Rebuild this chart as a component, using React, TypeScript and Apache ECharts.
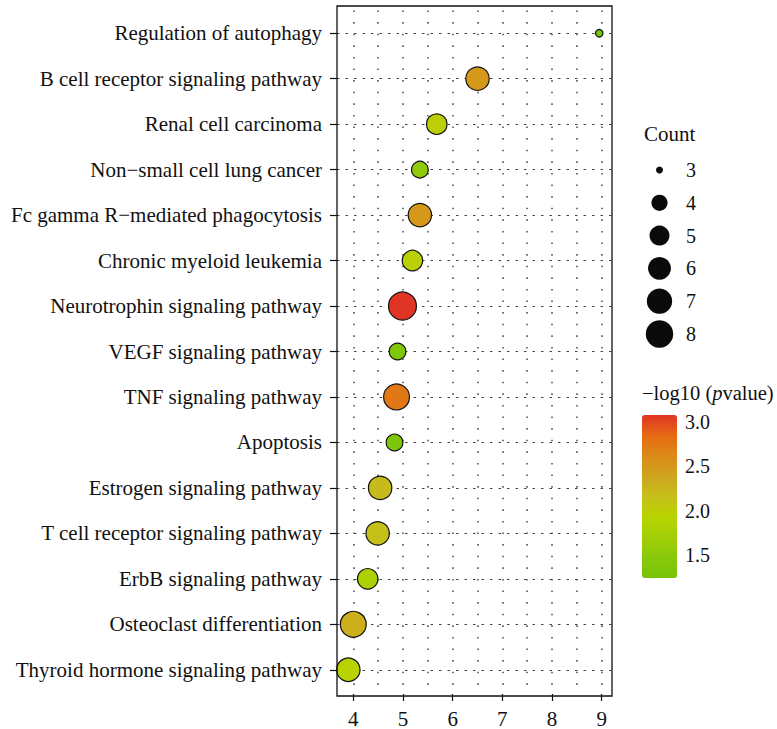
import React, { useEffect, useRef } from "react";
import * as echarts from "echarts";

// Pathways, top to bottom
const categories: string[] = [
  "Regulation of autophagy",
  "B cell receptor signaling pathway",
  "Renal cell carcinoma",
  "Non\u2212small cell lung cancer",
  "Fc gamma R\u2212mediated phagocytosis",
  "Chronic myeloid leukemia",
  "Neurotrophin signaling pathway",
  "VEGF signaling pathway",
  "TNF signaling pathway",
  "Apoptosis",
  "Estrogen signaling pathway",
  "T cell receptor signaling pathway",
  "ErbB signaling pathway",
  "Osteoclast differentiation",
  "Thyroid hormone signaling pathway",
];
const xValues: number[] = [8.95, 6.5, 5.68, 5.34, 5.34, 5.19, 4.99, 4.89, 4.87, 4.83, 4.54, 4.49, 4.29, 4.0, 3.9];
const counts: number[] = [3, 6, 5, 4, 6, 5, 8, 4, 7, 4, 6, 6, 5, 7, 6];
const logP: number[] = [1.24, 2.5, 2.0, 1.55, 2.5, 1.98, 3.08, 1.35, 2.75, 1.33, 2.2, 2.15, 1.8, 2.3, 1.95];

const xTicks: number[] = [4, 5, 6, 7, 8, 9];
const xGrid: number[] = [4, 4.5, 5, 5.5, 6, 6.5, 7, 7.5, 8, 8.5, 9];
const countLevels: number[] = [3, 4, 5, 6, 7, 8];
const colorTicks: number[] = [1.5, 2.0, 2.5, 3.0];
const pMin = 1.24;
const pMax = 3.08;
const colorStops: string[] = [
  "#78c408", "#88c80a", "#a2cf06", "#b8d400", "#c6c01a",
  "#cea41e", "#dc8a18", "#e66a12", "#e03424",
];

const FONT = "Liberation Serif";

function bubbleSize(c: number): number {
  const lo = 3, hi = 8;
  return 7.5 + 20.5 * Math.sqrt((c - lo) / (hi - lo));
}

export default function App() {
  const ref = useRef<HTMLDivElement>(null);
  useEffect(() => {
    if (!ref.current) return;
    const chart = echarts.init(ref.current, null, { renderer: "svg" });
    const data = categories.map((c, i) => [xValues[i], c, logP[i], counts[i]]);
    const markData: any[] = [
      ...xGrid.map((x) => ({
        xAxis: x,
        lineStyle: { color: "#555", width: 1.6, type: [1.6, 10] },
      })),
      ...categories.map((c) => ({
        yAxis: c,
        lineStyle: { color: "#444", width: 1.2, type: [2.5, 6] },
      })),
    ];
    chart.setOption({
      animation: false,
      grid: [
        { left: 337, width: 275, top: 10.5, height: 684 },
        { left: 641, width: 37, top: 153.6, height: 196.8 },
        { left: 642, width: 35, top: 415, height: 163 },
      ],
      xAxis: [
        {
          type: "value",
          gridIndex: 0,
          min: 3.672,
          max: 9.207,
          offset: 1.5,
          axisLine: { show: false },
          axisTick: {
            show: true,
            length: 7,
            customValues: xTicks,
            lineStyle: { color: "#111", width: 1.2 },
          },
          axisLabel: {
            customValues: xTicks,
            margin: 14,
            color: "#111",
            fontFamily: FONT,
            fontSize: 21,
          },
          splitLine: { show: false },
        },
        { type: "value", gridIndex: 1, min: -1, max: 1, show: false },
        { type: "value", gridIndex: 2, min: 0, max: 1, show: false },
      ],
      yAxis: [
        {
          type: "category",
          gridIndex: 0,
          data: categories,
          inverse: true,
          axisLine: { show: false },
          axisTick: {
            show: true,
            alignWithLabel: true,
            length: 7,
            lineStyle: { color: "#111", width: 1.2 },
          },
          axisLabel: {
            margin: 15,
            color: "#111",
            fontFamily: FONT,
            fontSize: 21,
          },
          splitLine: { show: false },
        },
        {
          type: "category",
          gridIndex: 1,
          data: countLevels.map(String),
          inverse: true,
          position: "right",
          axisLine: { show: false },
          axisTick: { show: false },
          axisLabel: { margin: 8, color: "#111", fontFamily: FONT, fontSize: 20 },
          splitLine: { show: false },
        },
        {
          type: "value",
          gridIndex: 2,
          position: "right",
          min: pMin,
          max: pMax,
          axisLine: { show: false },
          axisTick: {
            show: true,
            length: 4,
            customValues: colorTicks,
            lineStyle: { color: "#333", width: 1 },
          },
          axisLabel: {
            customValues: colorTicks,
            margin: 8,
            color: "#111",
            fontFamily: FONT,
            fontSize: 20,
            formatter: (v: number) => v.toFixed(1),
          },
          splitLine: { show: false },
        },
      ],
      visualMap: {
        type: "continuous",
        seriesIndex: 0,
        dimension: 2,
        min: pMin,
        max: pMax,
        calculable: false,
        realtime: false,
        left: 642,
        top: 415,
        padding: 0,
        itemWidth: 35,
        itemHeight: 163,
        text: null,
        showLabel: false,
        inRange: { color: colorStops },
      },
      graphic: [
        {
          type: "rect",
          shape: { x: 337, y: 6, width: 275, height: 690 },
          style: { fill: "none", stroke: "#111", lineWidth: 1.3 },
          z: 100,
          silent: true,
        },
        {
          type: "text",
          left: 644,
          top: 123,
          style: { text: "Count", font: `21px "${FONT}"`, fill: "#111" },
        },
        {
          type: "text",
          left: 642,
          top: 382,
          style: {
            text: "{a|\u2212log10 (}{b|p}{a|value)}",
            rich: {
              a: { font: `20.5px "${FONT}"`, fill: "#111" },
              b: { font: `italic 20.5px "${FONT}"`, fill: "#111" },
            },
          },
        },
      ],
      series: [
        {
          type: "scatter",
          xAxisIndex: 0,
          yAxisIndex: 0,
          data,
          encode: { x: 0, y: 1 },
          symbolSize: (v: any[]) => bubbleSize(v[3]),
          itemStyle: { borderColor: "#111", borderWidth: 1.2, opacity: 1 },
          z: 5,
        },
        {
          type: "scatter",
          xAxisIndex: 0,
          yAxisIndex: 0,
          data: [],
          z: 1,
          markLine: {
            silent: true,
            symbol: ["none", "none"],
            label: { show: false },
            animation: false,
            data: markData,
          },
        },
        {
          type: "scatter",
          xAxisIndex: 1,
          yAxisIndex: 1,
          data: countLevels.map((c) => [0, String(c), c]),
          symbolSize: (v: any[]) => bubbleSize(v[2]) - 0.5,
          itemStyle: { color: "#0a0a0a", opacity: 1 },
        },
      ],
    });
    return () => chart.dispose();
  }, []);
  return (
    <div
      ref={ref}
      style={{ position: "fixed", left: 0, top: 0, width: 777, height: 729, background: "#fff" }}
    />
  );
}
